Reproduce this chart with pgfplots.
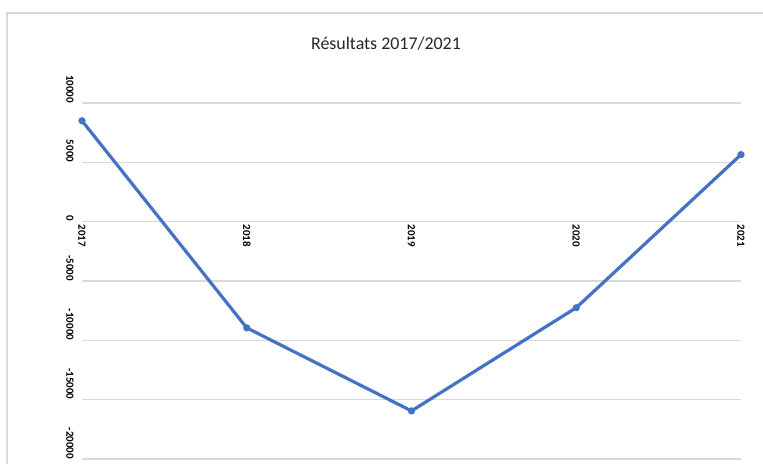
\documentclass[border=0pt]{standalone}
\usepackage{pgfplots}
\pgfplotsset{compat=1.18}
\usepackage{fontspec}
\setmainfont{Carlito}
\definecolor{lineblue}{HTML}{4472C4}
\definecolor{gridgray}{HTML}{D9D9D9}
\begin{document}
\begin{tikzpicture}[x=1bp,y=1bp]
\useasboundingbox (-82,-5) rectangle (681,459);
\draw[gridgray, line width=1.2bp] (-75,-5) -- (-75,446) -- (681,446);
\node[font=\fontsize{18}{22}\selectfont, text=black!85] at (304,415) {Résultats 2017/2021};
\begin{axis}[
  at={(0,0)}, anchor=south west,
  scale only axis, width=659bp, height=356bp,
  xmin=2017, xmax=2021, ymin=-20000, ymax=10000,
  clip=false,
  axis lines=left,
  axis line style={draw=none},
  scaled y ticks=false, scaled x ticks=false,
  major tick length=0pt,
  xtick={2017,2018,2019,2020,2021},
  xticklabels={2017,2018,2019,2020,2021},
  ytick={-20000,-15000,-10000,-5000,0,5000,10000},
  yticklabels={-20000,-15000,-10000,-5000,0,5000,10000},
  ymajorgrids, grid style={gridgray, line width=1.2bp},
  ticklabel style={font=\bfseries\fontsize{11}{13}\selectfont, text=black},
  xticklabel style={yshift=237bp, rotate=-90, anchor=west, inner sep=2.5bp},
  yticklabel style={xshift=-12bp, rotate=-90, anchor=east, inner sep=0pt},
]
\addplot[lineblue, line width=3.2bp, mark=*, mark size=3.5bp, mark options={fill=lineblue, draw=lineblue, line width=0.1bp}]
  coordinates {(2017,8500) (2018,-8950) (2019,-15950) (2020,-7250) (2021,5650)};
\end{axis}
\end{tikzpicture}
\end{document}
